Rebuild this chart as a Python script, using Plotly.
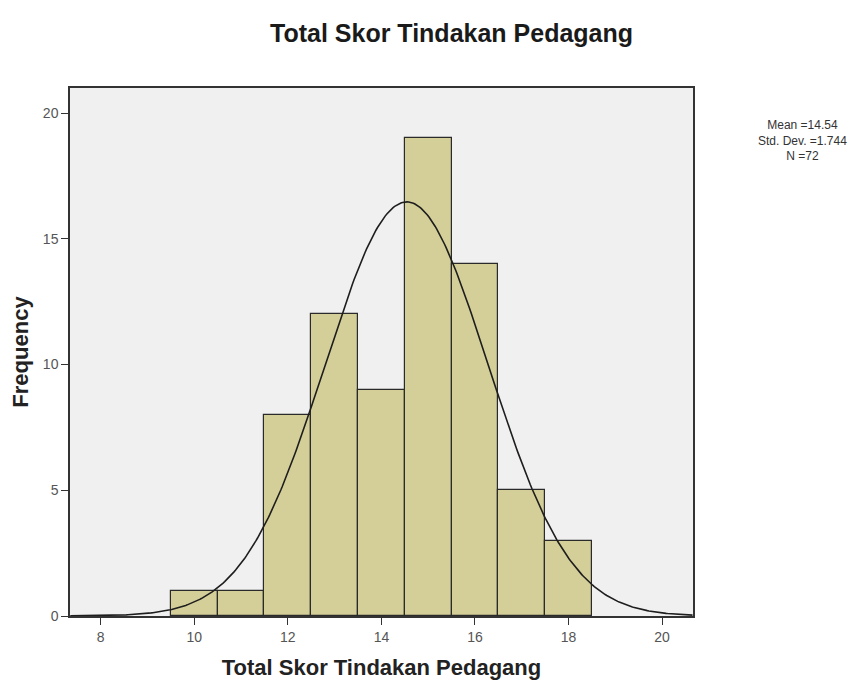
import numpy as np
import plotly.graph_objects as go

# Data
bin_centers = [10, 11, 12, 13, 14, 15, 16, 17, 18]
frequencies = [1, 1, 8, 12, 9, 19, 14, 5, 3]
mean_val = 14.54
std_val = 1.744
n_val = 72
bin_width = 1.0
x_ticks = [8, 10, 12, 14, 16, 18, 20]
y_ticks = [0, 5, 10, 15, 20]
stats_lines = [f"Mean ={mean_val}", f"Std. Dev. ={std_val}", f"N ={n_val}"]

# Normal curve fitted from the reported statistics
xs = np.linspace(7.35, 20.65, 400)
ys = n_val * bin_width / (std_val * np.sqrt(2 * np.pi)) * np.exp(-0.5 * ((xs - mean_val) / std_val) ** 2)

fig = go.Figure()
fig.add_trace(go.Bar(
    x=bin_centers, y=frequencies, width=bin_width,
    marker=dict(color="#d4cf98", line=dict(color="#2a2a2a", width=1.2)),
    showlegend=False, hoverinfo="x+y",
))
fig.add_trace(go.Scatter(
    x=xs, y=ys, mode="lines",
    line=dict(color="#1e1e1e", width=1.6),
    showlegend=False, hoverinfo="skip",
))

FAM = "Liberation Sans, Arial, sans-serif"
axis_font = dict(family=FAM, size=14, color="#555555")
title_font = dict(family=FAM, size=22, color="#222222")

annotations = [
    dict(text="<b>Total Skor Tindakan Pedagang</b>", xref="paper", yref="paper",
         x=0.613, y=1.104, xanchor="center", yanchor="middle", showarrow=False,
         font=dict(family=FAM, size=25, color="#1a1a1a")),
    dict(text="<br>".join(stats_lines), xref="paper", yref="paper",
         x=1.175, y=0.90, xanchor="center", yanchor="middle", align="center",
         showarrow=False, font=dict(family=FAM, size=12, color="#333333")),
]

fig.update_layout(
    width=867, height=689,
    margin=dict(l=70, r=174, t=88, b=73),
    paper_bgcolor="white",
    plot_bgcolor="#f0f0f0",
    bargap=0,
    font=dict(family=FAM),
    xaxis=dict(
        range=[7.344, 20.66], tickvals=x_ticks, ticks="outside", ticklen=7,
        tickcolor="#333333", tickfont=axis_font, showgrid=False, zeroline=False,
        showline=True, linecolor="#333333", linewidth=1.5, mirror=True,
        title=dict(text="<b>Total Skor Tindakan Pedagang</b>", font=title_font, standoff=16),
    ),
    yaxis=dict(
        range=[0, 21.0], tickvals=y_ticks, ticks="outside", ticklen=7,
        tickcolor="#333333", tickfont=axis_font, showgrid=False, zeroline=False,
        showline=True, linecolor="#333333", linewidth=1.5, mirror=True,
        title=dict(text="<b>Frequency</b>", font=title_font, standoff=8),
    ),
    annotations=annotations,
)

fig.write_html("out.html", config={"displayModeBar": False},
               post_script="document.body.style.margin='0px';")
